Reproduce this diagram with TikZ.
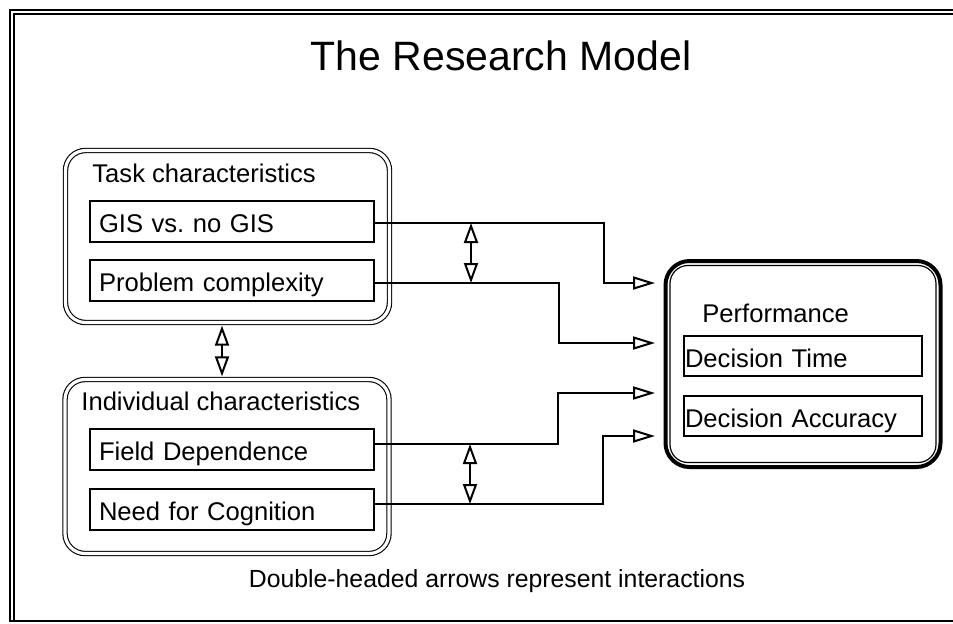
\documentclass[tikz,border=0pt]{standalone}
\usepackage{fontspec}
\setmainfont{Liberation Sans}
\usetikzlibrary{arrows.meta,calc}
\frenchspacing

\begin{document}
\begin{tikzpicture}[
		x=0.5pt, y=-0.5pt,
		% Estilos: cajas de grupo (doble borde), cajas de variable y flechas
		groupBox/.style={draw, double, double distance=1.6pt, line width=0.55pt, rounded corners=10pt},
		itemBox/.style={draw, line width=1pt, fill=white, minimum height=20.5pt,
			text height=11pt, text depth=0pt, font=\bodyFont},
		groupLbl/.style={anchor=base west, inner sep=0pt, font=\bodyFont},
		flowArrow/.style={line width=1pt, -{Triangle[open, length=11pt, width=6.5pt]}},
		bothArrow/.style={line width=1pt, {Triangle[open, length=10pt, width=7pt]}-{Triangle[open, length=10pt, width=7pt]}}
	]
	\newcommand{\bodyFont}{\fontsize{12.8}{15}\selectfont}

	\useasboundingbox (0,0) rectangle (953,623);

	% --- 1. Marco exterior ---
	\draw[line width=0.8pt] (960,10) -- (10,10) -- (10,621) -- (960,621);
	\draw[line width=0.8pt] (960,14) -- (14,14) -- (14,621);

	\node[anchor=base, font=\fontsize{20.5}{24}\selectfont] (title) at (501,70) {The Research Model};

	% --- 2. Cajas de grupo ---
	\node[groupBox, minimum width=162pt, minimum height=86pt] (task) at (227.5,236.5) {};
	\node[groupBox, minimum width=162pt, minimum height=87pt] (indiv) at (227,466.5) {};
	\node[draw, line width=2pt, rounded corners=12pt, minimum width=137.5pt, minimum height=103pt] (perf) at (803,364) {};
	\draw[line width=0.6pt, rounded corners=9pt] ($(perf.north west)+(6.5,6.5)$) rectangle ($(perf.south east)+(-6.5,-6.5)$);

	\node[groupLbl] (taskLbl) at (92,182) {Task characteristics};
	\node[groupLbl] (indivLbl) at (81,410) {Individual characteristics};
	\node[groupLbl] (perfLbl) at (702,322) {Performance};

	% --- 3. Variables ---
	\node[itemBox, inner xsep=4.5pt, text width=133pt] (gis) at (232,221.5) {\noindent GIS vs. no GIS};
	\node[itemBox, inner xsep=4.5pt, text width=133pt] (pc)  at (232,280.5) {\noindent Problem complexity};
	\node[itemBox, inner xsep=4.5pt, text width=133pt] (fd)  at (232,449.5) {\noindent Field Dependence};
	\node[itemBox, inner xsep=4.5pt, text width=133pt] (nc)  at (232,509.5) {\noindent Need for Cognition};

	\node[itemBox, minimum height=20pt, inner xsep=0.5pt, text width=118pt] (dt) at (803,356) {\noindent Decision Time};
	\node[itemBox, minimum height=20pt, inner xsep=0.5pt, text width=118pt] (da) at (803,416) {\noindent Decision Accuracy};

	% --- 4. Conexiones hacia Performance ---
	\coordinate (gisOut) at ([yshift=-0.75pt]gis.east);
	\coordinate (pcOut)  at ([yshift=-1.25pt]pc.east);
	\coordinate (fdOut)  at ([yshift=2.75pt]fd.east);
	\coordinate (ncOut)  at ([yshift=2.75pt]nc.east);

	\coordinate (inA) at (655,283);
	\coordinate (inB) at (655,343);
	\coordinate (inC) at (655,393);
	\coordinate (inD) at (655,436);

	\draw[flowArrow] (gisOut) -| (604,283) -- (inA);
	\draw[flowArrow] (pcOut)  -| (559,343) -- (inB);
	\draw[flowArrow] (fdOut)  -| (558,393) -- (inC);
	\draw[flowArrow] (ncOut)  -| (603,436) -- (inD);

	% --- 5. Interacciones (flechas dobles) ---
	\coordinate (xTask) at (471,0);
	\coordinate (xIndiv) at (470,0);

	\draw[bothArrow] (gisOut -| xTask) -- (pcOut -| xTask);
	\draw[bothArrow] (fdOut -| xIndiv) -- (ncOut -| xIndiv);
	\draw[bothArrow, shorten <=1.3pt, shorten >=1.3pt] ([xshift=-2.75pt]task.south) -- ([xshift=-2.5pt]indiv.north);

	\node[anchor=base, font=\fontsize{12.4}{15}\selectfont] (note) at (497,587) {Double-headed arrows represent interactions};

\end{tikzpicture}
\end{document}
